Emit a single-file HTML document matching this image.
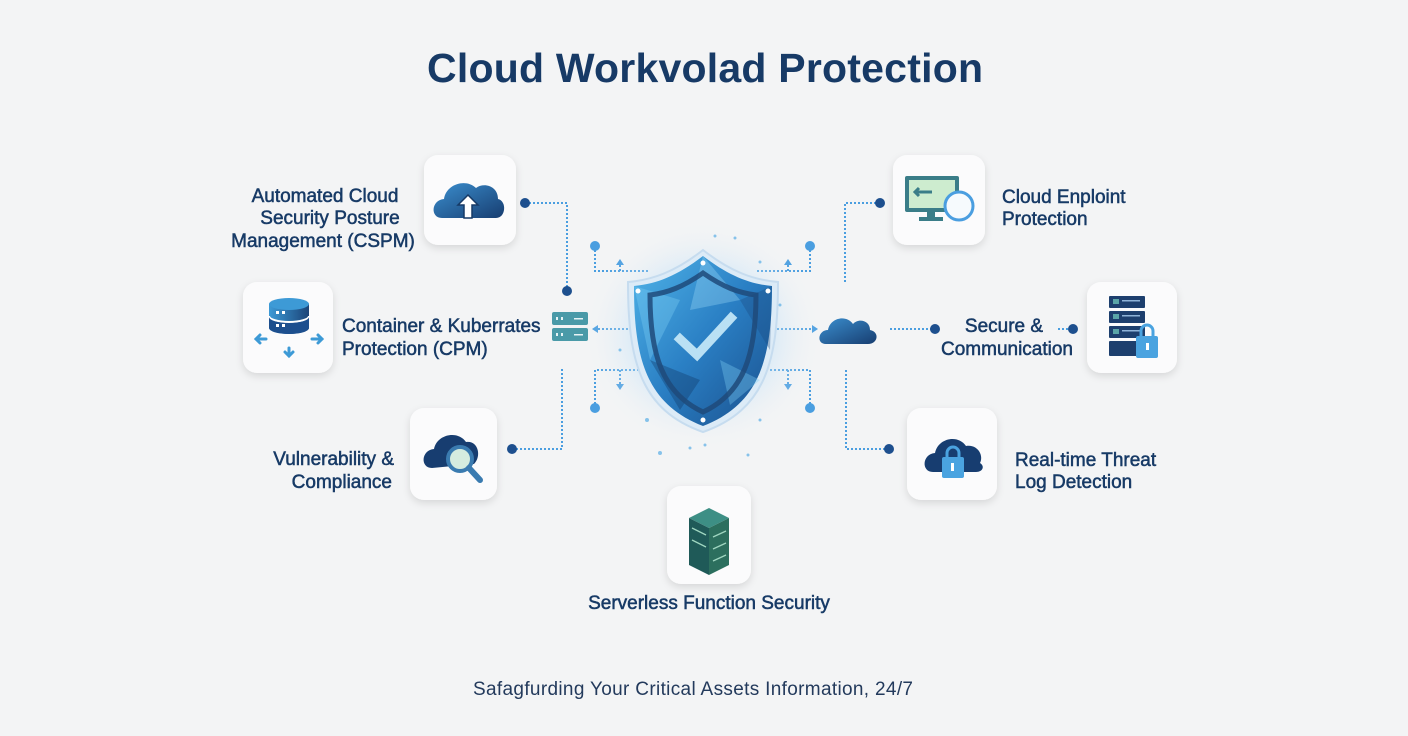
<!DOCTYPE html>
<html><head><meta charset="utf-8"><style>
html,body{margin:0;padding:0;background:#f3f4f5;}
svg{display:block;}
text{font-family:"Liberation Sans",sans-serif;}
</style></head><body>
<svg width="1408" height="736" viewBox="0 0 1408 736" xmlns="http://www.w3.org/2000/svg">
<defs>
<filter id="sh" x="-30%" y="-30%" width="160%" height="160%"><feDropShadow dx="0" dy="3" stdDeviation="4" flood-color="#000" flood-opacity="0.12"/></filter>
<radialGradient id="glow" cx="50%" cy="50%" r="50%"><stop offset="0" stop-color="#8fc8f0" stop-opacity="0.7"/><stop offset="0.6" stop-color="#bfe0f7" stop-opacity="0.4"/><stop offset="1" stop-color="#f3f4f5" stop-opacity="0"/></radialGradient>
<linearGradient id="sg" x1="0" y1="0" x2="1" y2="1"><stop offset="0" stop-color="#4fb3e8"/><stop offset="0.5" stop-color="#2a7fc4"/><stop offset="1" stop-color="#1a4f8c"/></linearGradient>
<linearGradient id="cg" x1="0" y1="0" x2="1" y2="1"><stop offset="0" stop-color="#3b8fcf"/><stop offset="1" stop-color="#173d70"/></linearGradient>
<linearGradient id="db" x1="0" y1="0" x2="1" y2="0"><stop offset="0" stop-color="#3d9ad6"/><stop offset="1" stop-color="#1b4478"/></linearGradient>
</defs>
<rect width="1408" height="736" fill="#f3f4f5"/>

<text x="705" y="82" text-anchor="middle" font-size="41" font-weight="bold" fill="#173a66" textLength="556">Cloud Workvolad Protection</text>

<!-- connectors -->
<g stroke="#4a9ee0" stroke-width="2" stroke-dasharray="2 2" fill="none">
<path d="M525 203 H567 V291"/>
<path d="M512 449 H562 V368"/>
<path d="M880 203 H845 V283"/>
<path d="M889 449 H846 V368"/>
<path d="M890 329 H935"/>
<path d="M1058 329 H1073"/>
<path d="M595 246 V271 H650"/>
<path d="M810 246 V271 H755"/>
<path d="M595 408 V370 H650"/>
<path d="M810 408 V370 H755"/>
<path d="M620 271 V263"/><path d="M788 271 V263"/>
<path d="M620 370 V385"/><path d="M788 370 V385"/>
<path d="M598 329 H640"/><path d="M765 329 H812"/>
</g>
<g fill="#4a9ee0">
<path d="M616 265 L620 259 L624 265Z"/><path d="M784 265 L788 259 L792 265Z"/>
<path d="M616 384 L620 390 L624 384Z"/><path d="M784 384 L788 390 L792 384Z"/>
<path d="M598 325 L592 329 L598 333Z"/><path d="M812 325 L818 329 L812 333Z"/>
<circle cx="595" cy="246" r="5"/><circle cx="810" cy="246" r="5"/>
<circle cx="595" cy="408" r="5"/><circle cx="810" cy="408" r="5"/>
</g>
<g fill="#1d4f8e">
<circle cx="525" cy="203" r="5"/><circle cx="567" cy="291" r="5"/>
<circle cx="512" cy="449" r="5"/><circle cx="880" cy="203" r="5"/>
<circle cx="889" cy="449" r="5"/><circle cx="935" cy="329" r="5"/><circle cx="1073" cy="329" r="5"/>
</g>

<!-- shield -->
<ellipse cx="703" cy="335" rx="120" ry="115" fill="url(#glow)"/>
<g fill="#5aaee6" opacity="0.7">
<circle cx="655" cy="285" r="1.5"/><circle cx="760" cy="262" r="1.5"/><circle cx="780" cy="305" r="1.5"/><circle cx="620" cy="350" r="1.5"/>
<circle cx="647" cy="420" r="2"/><circle cx="760" cy="420" r="1.5"/><circle cx="705" cy="445" r="1.5"/><circle cx="690" cy="448" r="1.5"/>
<circle cx="735" cy="238" r="1.5"/><circle cx="715" cy="236" r="1.5"/><circle cx="660" cy="453" r="2"/><circle cx="748" cy="455" r="1.5"/>
</g>
<path d="M703 250 C675 272 652 280 628 282 C628 360 640 410 703 432 C766 410 778 360 778 282 C754 280 731 272 703 250Z" fill="#dcebf7" stroke="#c6dcef" stroke-width="2"/>
<path d="M703 256 C677 276 656 284 634 286 C634 358 646 404 703 426 C760 404 772 358 772 286 C750 284 729 276 703 256Z" fill="url(#sg)"/>
<g opacity="0.35">
<path d="M634 286 L680 300 L650 360Z" fill="#7fd0f5"/>
<path d="M703 256 L740 300 L690 310Z" fill="#9bd9f7"/>
<path d="M772 286 L740 300 L770 350Z" fill="#1b4a82"/>
<path d="M650 360 L700 380 L680 410Z" fill="#0f3563"/>
<path d="M720 360 L760 380 L730 405Z" fill="#7fd0f5"/>
</g>
<path d="M703 273 C683 287 667 293 650 295 C650 354 662 393 703 412 C744 393 756 354 756 295 C739 293 723 287 703 273Z" fill="none" stroke="#1f4a7a" stroke-width="5" opacity="0.85"/>
<path d="M680 339 L697 355 L731 318" fill="none" stroke="#b9e0f4" stroke-width="9" stroke-linecap="square"/>
<g fill="#fff"><circle cx="703" cy="263" r="2.5"/><circle cx="638" cy="291" r="2.5"/><circle cx="768" cy="291" r="2.5"/><circle cx="703" cy="420" r="2.5"/></g>

<!-- small server left -->
<rect x="552" y="312" width="36" height="13" rx="2" fill="#4a9aa8"/>
<rect x="552" y="328" width="36" height="13" rx="2" fill="#4a9aa8"/>
<g fill="#e6f3f5"><rect x="556" y="317" width="2" height="3"/><rect x="561" y="317" width="2" height="3"/><rect x="574" y="318" width="9" height="1.5"/>
<rect x="556" y="333" width="2" height="3"/><rect x="561" y="333" width="2" height="3"/><rect x="574" y="334" width="9" height="1.5"/></g>
<!-- small cloud right -->
<path d="M826 344 C816 344 818 330 828 330 C830 318 846 314 853 324 C858 318 870 320 870 330 C880 332 878 344 868 344Z" fill="url(#cg)"/>

<!-- cards -->
<g fill="#fbfbfc" filter="url(#sh)">
<rect x="424" y="155" width="92" height="90" rx="14"/>
<rect x="243" y="282" width="90" height="91" rx="14"/>
<rect x="410" y="408" width="87" height="92" rx="14"/>
<rect x="893" y="155" width="92" height="90" rx="14"/>
<rect x="1087" y="282" width="90" height="91" rx="14"/>
<rect x="907" y="408" width="90" height="92" rx="14"/>
<rect x="667" y="486" width="84" height="98" rx="14"/>
</g>

<!-- CSPM icon -->
<path d="M442 218 C430 218 431 200 444 199 C446 184 466 178 476 188 C484 182 498 186 498 199 C507 201 506 218 496 218Z" fill="url(#cg)"/>
<path d="M468 195 L478 205 L472 205 L472 218 L464 218 L464 205 L458 205Z" fill="#fff" stroke="#163a66" stroke-width="1.5"/>

<!-- CPM icon -->
<path d="M269 304 V328 A20 6 0 0 0 309 328 V304Z" fill="url(#db)"/>
<ellipse cx="289" cy="304" rx="20" ry="6" fill="#3d9ad6"/>
<path d="M269 316 A20 6 0 0 0 309 316" stroke="#fff" stroke-width="2" fill="none"/>
<path d="M269 317 V328 A20 6 0 0 0 309 328 V317 A20 6 0 0 1 269 317Z" fill="#1d4f8e"/>
<g fill="#fff"><rect x="276" y="311" width="3" height="3"/><rect x="282" y="311" width="3" height="3"/><rect x="276" y="324" width="3" height="3"/><rect x="282" y="324" width="3" height="3"/></g>
<g stroke="#3d9ad6" stroke-width="3" fill="none" stroke-linecap="round"><path d="M256 339 H266 M260 335 L256 339 L260 343"/><path d="M312 339 H322 M318 335 L322 339 L318 343"/><path d="M289 348 V355 M285 352 L289 356 L293 352"/></g>

<!-- Vuln icon -->
<path d="M432 468 C420 468 421 450 434 449 C437 434 458 430 466 442 C478 440 482 456 474 464Z" fill="#173d70"/>
<circle cx="460" cy="459" r="12" fill="#d5ecdf" stroke="#3a7bb0" stroke-width="4"/>
<path d="M469 468 L480 480" stroke="#3a7bb0" stroke-width="6" stroke-linecap="round"/>

<!-- Endpoint icon -->
<rect x="905" y="176" width="54" height="36" rx="2" fill="#3a7d88"/>
<rect x="909" y="180" width="46" height="28" fill="#cdeccf"/>
<path d="M915 192 H932 M919 188 L915 192 L919 196" stroke="#3a7d88" stroke-width="3" fill="none"/>
<rect x="927" y="212" width="8" height="6" fill="#3a7d88"/><rect x="919" y="217" width="24" height="4" fill="#3a7d88"/>
<circle cx="959" cy="206" r="14" fill="#f6fafd" stroke="#4a9ee0" stroke-width="3"/>

<!-- Secure icon -->
<g fill="#1d3f6e"><rect x="1109" y="296" width="36" height="12" rx="1"/><rect x="1109" y="311" width="36" height="12" rx="1"/><rect x="1109" y="326" width="36" height="12" rx="1"/><rect x="1109" y="341" width="36" height="15" rx="1"/></g>
<g fill="#5aa5a8"><rect x="1113" y="299" width="6" height="5"/><rect x="1113" y="314" width="6" height="5"/><rect x="1113" y="329" width="6" height="5"/></g>
<g fill="#8fb3d8"><rect x="1122" y="300" width="18" height="1.5"/><rect x="1122" y="315" width="18" height="1.5"/><rect x="1122" y="330" width="18" height="1.5"/></g>
<path d="M1141 336 V331 A6 6 0 0 1 1153 331 V336" stroke="#4aa3e0" stroke-width="3" fill="none"/>
<rect x="1136" y="336" width="22" height="22" rx="2" fill="#4aa3e0"/>
<rect x="1146" y="343" width="3" height="7" fill="#fff"/>

<!-- Realtime icon -->
<path d="M933 472 C921 472 922 454 935 453 C938 438 958 434 966 446 C978 444 984 456 980 463 C985 466 983 472 976 472Z" fill="#173d70"/>
<path d="M947 458 V453 A6 6 0 0 1 959 453 V458" stroke="#4aa3e0" stroke-width="3" fill="none"/>
<rect x="942" y="457" width="22" height="21" rx="2" fill="#4aa3e0"/>
<rect x="951" y="463" width="3" height="8" fill="#fff"/>

<!-- Serverless icon -->
<path d="M689 518 L709 508 L729 518 L709 528Z" fill="#3d8f85"/>
<path d="M689 518 L709 528 L709 575 L689 565Z" fill="#1f5a58"/>
<path d="M709 528 L729 518 L729 565 L709 575Z" fill="#2c6f5e"/>
<g stroke="#9fd6c0" stroke-width="1.3"><path d="M713 537 L726 531"/><path d="M713 549 L726 543"/><path d="M713 561 L726 555"/><path d="M692 528 L706 535"/><path d="M692 540 L706 547"/></g>

<!-- labels -->
<g fill="#173a66" font-size="19" stroke="#173a66" stroke-width="0.5">
<text x="325" y="202" text-anchor="middle">Automated Cloud</text>
<text x="330" y="224" text-anchor="middle">Security Posture</text>
<text x="323" y="247" text-anchor="middle">Management (CSPM)</text>
<text x="342" y="332">Container &amp; Kuberrates</text>
<text x="342" y="355">Protection (CPM)</text>
<text x="394" y="465" text-anchor="end">Vulnerability &amp;</text>
<text x="392" y="488" text-anchor="end">Compliance</text>
<text x="1002" y="203">Cloud Enploint</text>
<text x="1002" y="225">Protection</text>
<text x="1004" y="332" text-anchor="middle">Secure &amp;</text>
<text x="1007" y="355" text-anchor="middle">Communication</text>
<text x="1015" y="466">Real-time Threat</text>
<text x="1015" y="488">Log Detection</text>
<text x="709" y="609" text-anchor="middle">Serverless Function Security</text>
</g>
<text x="693" y="695" text-anchor="middle" font-size="19" fill="#233a5c" textLength="440">Safagfurding Your Critical Assets Information, 24/7</text>
</svg>
</body></html>
